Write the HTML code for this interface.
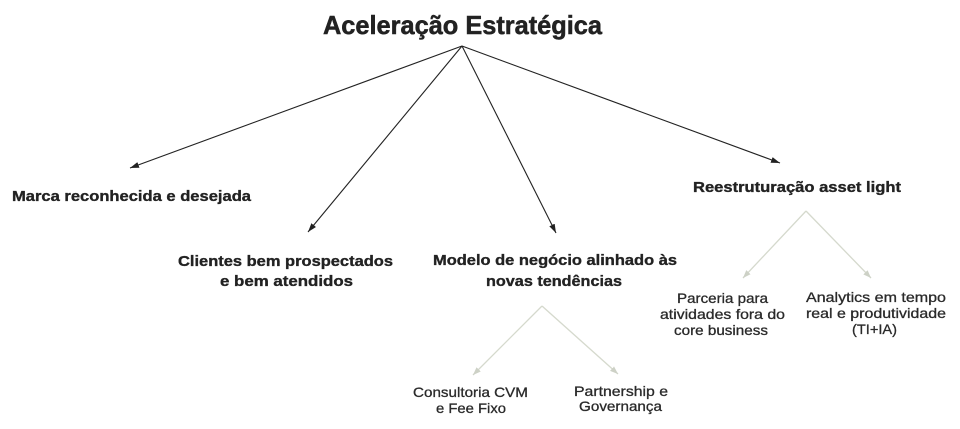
<!DOCTYPE html>
<html>
<head>
<meta charset="utf-8">
<style>
  html,body{margin:0;padding:0;background:#ffffff;}
  svg{display:block;}
  .b{font-family:"Liberation Sans",sans-serif;font-weight:bold;fill:#222;stroke:#222;stroke-width:0.35;}
  .r{font-family:"Liberation Sans",sans-serif;font-weight:normal;fill:#2a2a2a;stroke:#2a2a2a;stroke-width:0.3;}
</style>
</head>
<body>
<svg width="960" height="429" viewBox="0 0 960 429" xmlns="http://www.w3.org/2000/svg">
  <defs>
    <marker id="ad" markerWidth="10" markerHeight="8" refX="9" refY="3" orient="auto" markerUnits="userSpaceOnUse">
      <path d="M0,0 L9,3 L0,6 z" fill="#222"/>
    </marker>
    <marker id="al" markerWidth="10" markerHeight="8" refX="8" refY="3" orient="auto" markerUnits="userSpaceOnUse">
      <path d="M0,0 L8,3 L0,6 z" fill="#cdd1c6"/>
    </marker>
  </defs>

  <!-- Title -->
  <text class="b" x="323" y="34" font-size="26" textLength="279" lengthAdjust="spacingAndGlyphs" style="stroke-width:0.5">Aceleração Estratégica</text>

  <!-- main connectors -->
  <g stroke="#222" stroke-width="1.1" fill="none">
    <line x1="462" y1="46" x2="130" y2="168" marker-end="url(#ad)"/>
    <line x1="462" y1="46" x2="308" y2="232" marker-end="url(#ad)"/>
    <line x1="462" y1="46" x2="556" y2="233" marker-end="url(#ad)"/>
    <line x1="462" y1="46" x2="780" y2="163" marker-end="url(#ad)"/>
  </g>

  <!-- sub connectors -->
  <g stroke="#d5d9cd" stroke-width="1.3" fill="none">
    <line x1="806" y1="211" x2="743" y2="278" marker-end="url(#al)"/>
    <line x1="806" y1="211" x2="871" y2="278" marker-end="url(#al)"/>
    <line x1="542" y1="306" x2="473" y2="375" marker-end="url(#al)"/>
    <line x1="542" y1="306" x2="618" y2="374" marker-end="url(#al)"/>
  </g>

  <!-- level 1 labels -->
  <text class="b" x="12" y="201" font-size="15" textLength="239" lengthAdjust="spacingAndGlyphs">Marca reconhecida e desejada</text>

  <text class="b" x="178" y="266" font-size="15" textLength="215" lengthAdjust="spacingAndGlyphs">Clientes bem prospectados</text>
  <text class="b" x="220" y="286" font-size="15" textLength="133" lengthAdjust="spacingAndGlyphs">e bem atendidos</text>

  <text class="b" x="433" y="265" font-size="15" textLength="244" lengthAdjust="spacingAndGlyphs">Modelo de negócio alinhado às</text>
  <text class="b" x="486" y="286" font-size="15" textLength="136" lengthAdjust="spacingAndGlyphs">novas tendências</text>

  <text class="b" x="693" y="192" font-size="15" textLength="208" lengthAdjust="spacingAndGlyphs">Reestruturação asset light</text>

  <!-- level 2 labels -->
  <text class="r" x="677" y="303" font-size="14" textLength="91" lengthAdjust="spacingAndGlyphs">Parceria para</text>
  <text class="r" x="660" y="319" font-size="14" textLength="125" lengthAdjust="spacingAndGlyphs">atividades fora do</text>
  <text class="r" x="674" y="335" font-size="14" textLength="94" lengthAdjust="spacingAndGlyphs">core business</text>

  <text class="r" x="806" y="302" font-size="14" textLength="140" lengthAdjust="spacingAndGlyphs">Analytics em tempo</text>
  <text class="r" x="806" y="318" font-size="14" textLength="140" lengthAdjust="spacingAndGlyphs">real e produtividade</text>
  <text class="r" x="852" y="334" font-size="14" textLength="45" lengthAdjust="spacingAndGlyphs">(TI+IA)</text>

  <text class="r" x="413" y="397" font-size="14" textLength="115" lengthAdjust="spacingAndGlyphs">Consultoria CVM</text>
  <text class="r" x="436" y="413" font-size="14" textLength="70" lengthAdjust="spacingAndGlyphs">e Fee Fixo</text>

  <text class="r" x="574" y="396" font-size="14" textLength="94" lengthAdjust="spacingAndGlyphs">Partnership e</text>
  <text class="r" x="579" y="411" font-size="14" textLength="83" lengthAdjust="spacingAndGlyphs">Governança</text>
</svg>
</body>
</html>
